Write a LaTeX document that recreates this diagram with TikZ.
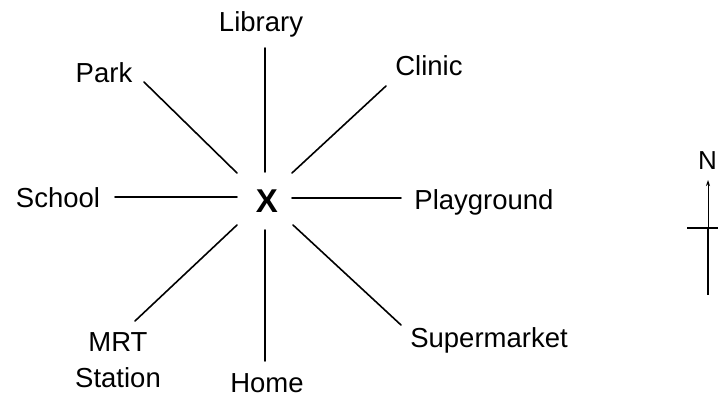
\documentclass[tikz,border=0pt]{standalone}
\usepackage{fontspec}
\setmainfont{Liberation Sans}
\usetikzlibrary{arrows.meta}
\begin{document}
\begin{tikzpicture}[x=1pt,y=-1pt,
  lbl/.style={inner sep=0pt,anchor=base,font=\fontsize{27.5}{30}\selectfont},
  ray/.style={line width=1.6pt,line cap=round},
  thinray/.style={line width=0.9pt}]
\useasboundingbox (0,0) rectangle (718,398);
% labels
\node[lbl] (lib) at (261,32) {Library};
\node[lbl] (park) at (104,83) {Park};
\node[lbl] (clinic) at (429,76) {Clinic};
\node[lbl] (school) at (58,208) {School};
\node[lbl,font=\bfseries\fontsize{33}{36}\selectfont] (X) at (267,213) {X};
\node[lbl] (play) at (484,210) {Playground};
\node[lbl] (mrt) at (118,352) {MRT};
\node[lbl] (station) at (118,387) {Station};
\node[lbl] (home) at (267,392) {Home};
\node[lbl] (super) at (489,347) {Supermarket};
\node[lbl,font=\fontsize{26}{28}\selectfont] (N) at (707.5,170) {N};
% ray end points
\coordinate (libA) at (265,48);  \coordinate (libB) at (265,172);
\coordinate (parkA) at (144,82); \coordinate (parkB) at (237,173);
\coordinate (clinA) at (386,86); \coordinate (clinB) at (292,173);
\coordinate (schA) at (115,197); \coordinate (schB) at (237,197);
\coordinate (plA) at (292,198);  \coordinate (plB) at (401,198);
\coordinate (mrtA) at (135,321); \coordinate (mrtB) at (237,225);
\coordinate (homeA) at (265,230); \coordinate (homeB) at (265,361);
\coordinate (supA) at (293,225); \coordinate (supB) at (401,325);
\draw[ray] (libA) -- (libB);
\draw[ray] (parkA) -- (parkB);
\draw[ray] (clinA) -- (clinB);
\draw[ray] (schA) -- (schB);
\draw[ray] (plA) -- (plB);
\draw[ray] (mrtA) -- (mrtB);
\draw[ray] (homeA) -- (homeB);
\draw[ray] (supA) -- (supB);
% compass
\coordinate (ntip) at (708,180);
\coordinate (nmid) at (708,228);
\coordinate (nbot) at (708,295);
\coordinate (ewA) at (687,228);
\coordinate (ewB) at (720,228);
\draw[thinray,-{Stealth[length=6pt,width=4pt]}] (nmid) -- (ntip);
\draw[ray,line cap=butt] (nmid) -- (nbot);
\draw[thinray,line width=1.2pt] (ewA) -- (ewB);
\end{tikzpicture}
\end{document}
